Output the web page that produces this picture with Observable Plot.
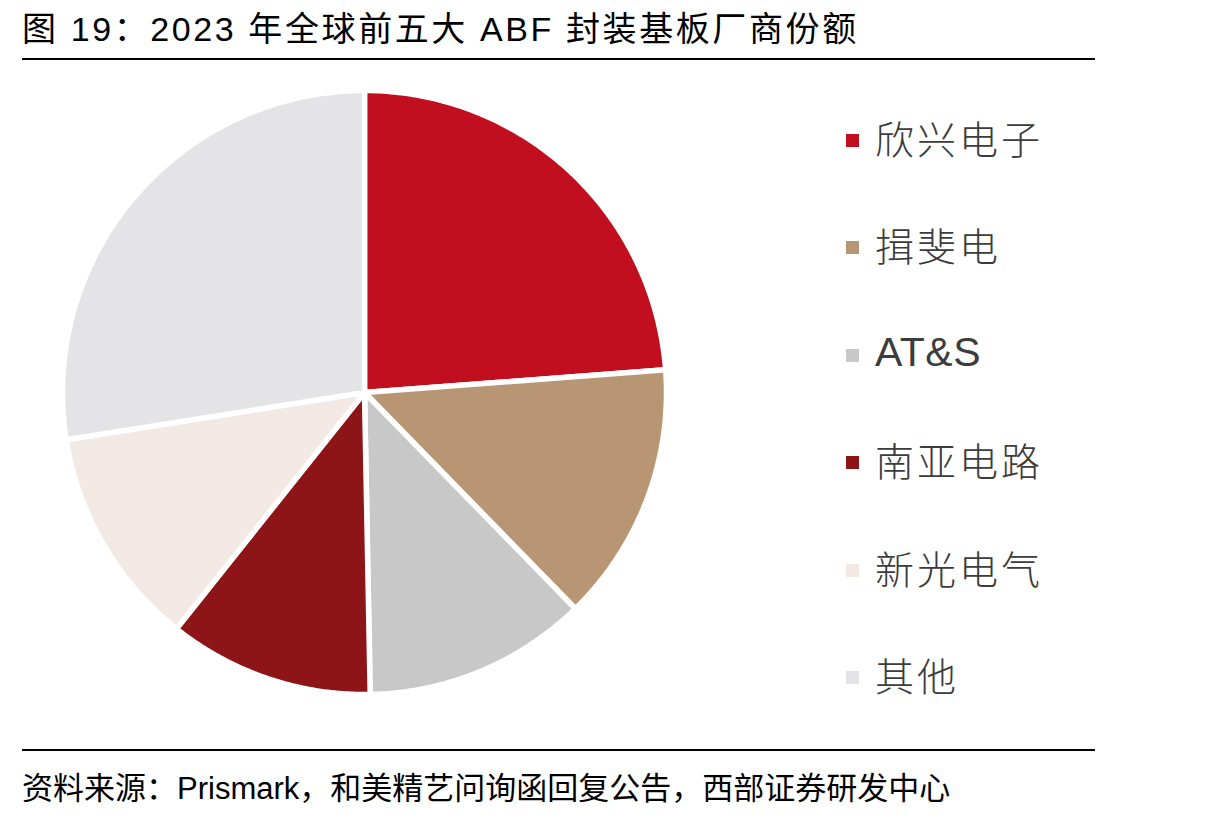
<!DOCTYPE html>
<html>
<head>
<meta charset="utf-8">
<script src="https://cdn.jsdelivr.net/npm/d3@7"></script>
<script src="https://cdn.jsdelivr.net/npm/@observablehq/plot@0.6"></script>
<style>
  html, body { margin: 0; padding: 0; background: #fff; }
  body { width: 1215px; height: 818px; position: relative; overflow: hidden;
         font-family: "Liberation Sans", "Noto Sans CJK SC", sans-serif; }
  #title { position: absolute; left: 22px; top: 2px; font-size: 34px; letter-spacing: 2.6px; color: #000; white-space: nowrap; }
  #rule1 { position: absolute; left: 22px; top: 58px; width: 1073px; height: 2px; background: #000; }
  #rule2 { position: absolute; left: 22px; top: 749px; width: 1073px; height: 2px; background: #000; }
  #source { position: absolute; left: 22px; top: 763px; font-size: 31px; color: #000; white-space: nowrap; }
  #chart { position: absolute; left: 0; top: 62px; }
  #legend { position: absolute; left: 846px; top: 111px; }
  .item { height: 107.4px; display: flex; align-items: flex-start; }
  .sw { width: 13px; height: 13px; margin-top: 23px; margin-right: 16px; }
  .lab { font-size: 39px; line-height: 52px; color: #3c3c3c; letter-spacing: 3px;
         font-family: "Noto Sans CJK SC", sans-serif; font-weight: 300; }
  .lab.latin { font-family: "Liberation Sans", sans-serif; letter-spacing: 0.5px; font-weight: 400; font-size: 41px; }
</style>
</head>
<body>
<div id="title">图 19：2023 年全球前五大 ABF 封装基板厂商份额</div>
<div id="rule1"></div>
<div id="chart"></div>
<div id="legend"></div>
<div id="rule2"></div>
<div id="source">资料来源：Prismark，和美精艺问询函回复公告，西部证券研发中心</div>
<script>
const companies = ["欣兴电子", "揖斐电", "AT&S", "南亚电路", "新光电气", "其他"];
const shares = [23.8, 13.9, 12.0, 11.0, 11.8, 27.5];
const colors = ["#C10F1F", "#B99673", "#C8C8C8", "#8E1517", "#F2E8E4", "#E4E4E6"];

// Build slice outlines (unit-circle geometry derived from the shares)
const arcs = d3.pie().sort(null).value(d => d)(shares);
const pts = [];
arcs.forEach((a, i) => {
  pts.push({company: companies[i], x: 0, y: 0});
  const n = 120;
  for (let k = 0; k <= n; k++) {
    const t = a.startAngle + (a.endAngle - a.startAngle) * k / n;
    pts.push({company: companies[i], x: Math.sin(t), y: Math.cos(t)});
  }
});

const chart = Plot.plot({
  width: 1215,
  height: 686,
  margin: 0,
  x: {domain: [-1, 1], range: [62, 666], axis: null},
  y: {domain: [-1, 1], range: [632, 28], axis: null},
  color: {domain: companies, range: colors},
  marks: [
    Plot.line(pts, {x: "x", y: "y", z: "company", fill: "company", stroke: "white",
      strokeWidth: 5.5, strokeLinejoin: "miter", curve: "linear-closed"})
  ]
});
document.getElementById("chart").appendChild(chart);

const legend = document.getElementById("legend");
companies.forEach((c, i) => {
  const item = document.createElement("div");
  item.className = "item";
  const sw = document.createElement("div");
  sw.className = "sw";
  sw.style.background = colors[i];
  const lab = document.createElement("div");
  lab.className = "lab" + (/^[A-Za-z]/.test(c) ? " latin" : "");
  lab.textContent = c;
  item.appendChild(sw);
  item.appendChild(lab);
  legend.appendChild(item);
});
</script>
</body>
</html>
